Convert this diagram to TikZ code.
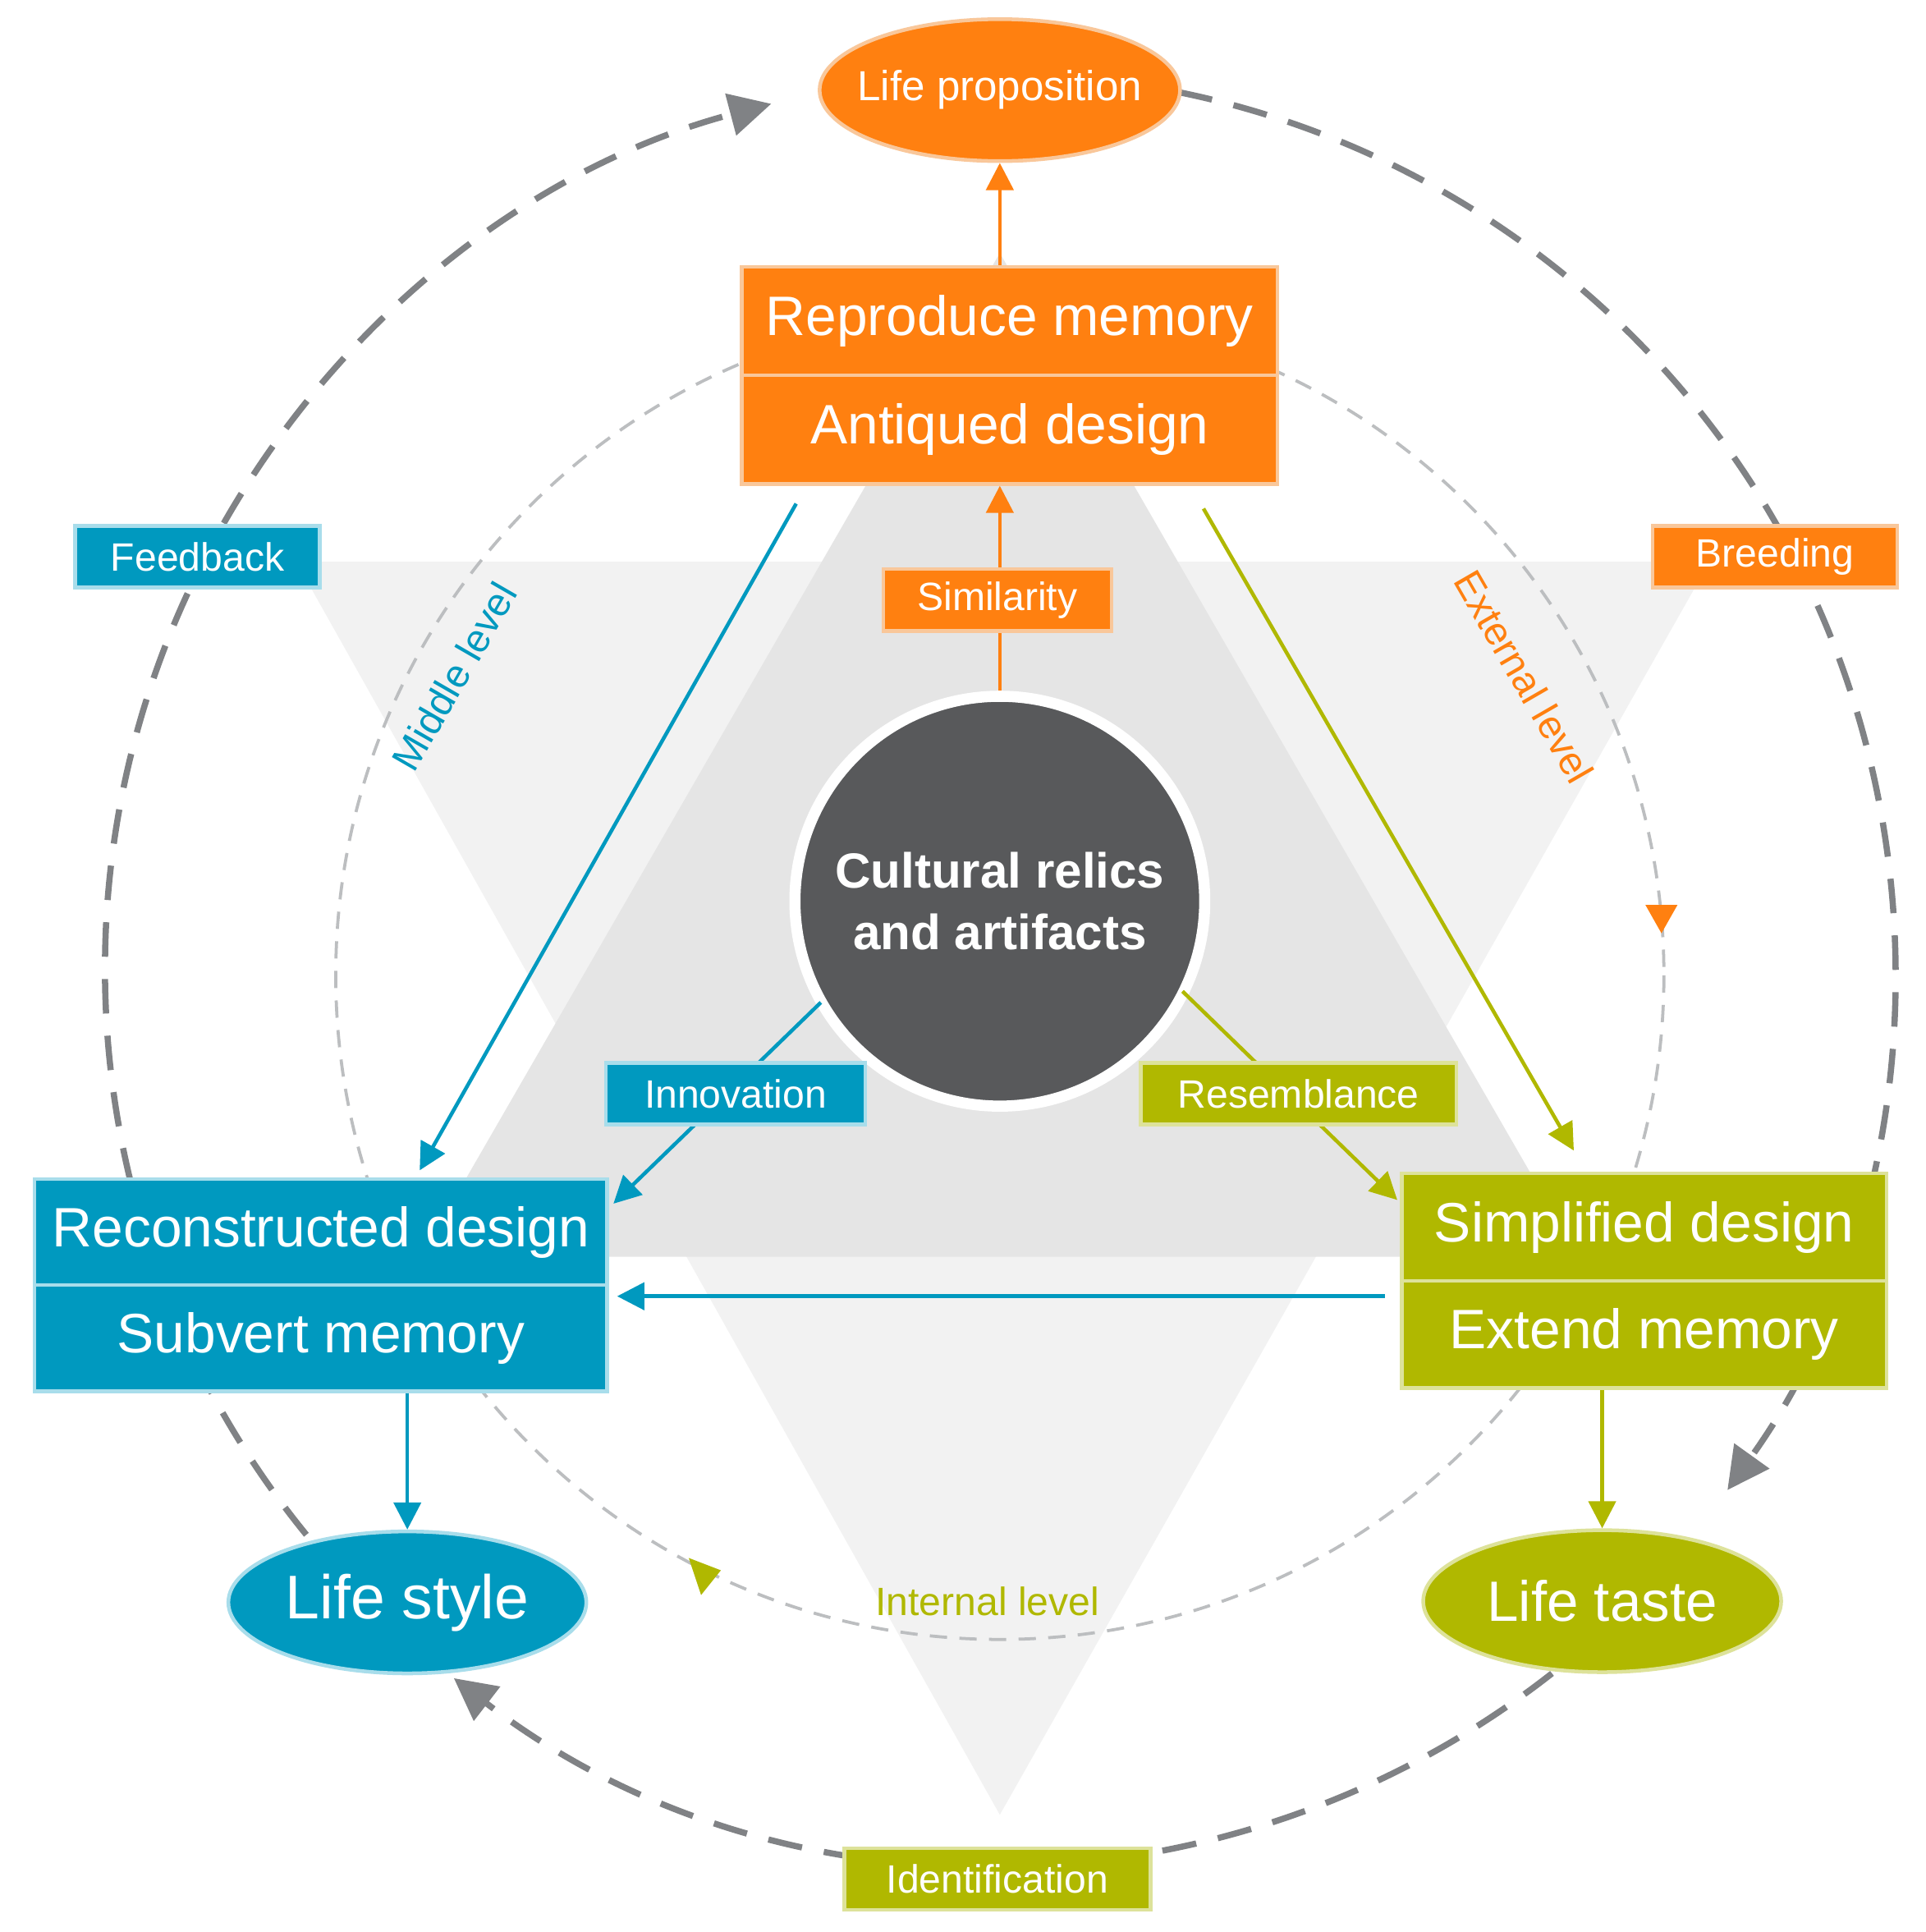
\documentclass[tikz,border=0pt]{standalone}
\usepackage{fontspec}
\setmainfont{Liberation Sans}
\usetikzlibrary{shapes.geometric,arrows.meta,calc}
\definecolor{org}{HTML}{FF8010}
\definecolor{orgl}{HTML}{F9C79A}
\definecolor{blu}{HTML}{0099BF}
\definecolor{blul}{HTML}{A8DDEB}
\definecolor{olv}{HTML}{B0B800}
\definecolor{olvl}{HTML}{DDE29A}
\definecolor{dk}{HTML}{58595B}
\definecolor{gr}{HTML}{808285}
\definecolor{lgr}{HTML}{BCBEC0}
\begin{document}
\begin{tikzpicture}[x=1pt,y=-1pt,
 box/.style={draw=#1l,line width=3pt,fill=#1,text=white,minimum width=434pt,minimum height=88pt,font=\fontsize{45}{48}\selectfont,inner sep=0pt},
 lab/.style={draw=#1l,line width=3pt,fill=#1,text=white,minimum height=50pt,font=\fontsize{32}{34}\selectfont,inner sep=0pt},
 ell/.style={ellipse,draw=#1l,line width=3pt,fill=#1,text=white,minimum width=290pt,minimum height=115pt,inner sep=0pt},
 con/.style={draw=#1,line width=3pt,-{Triangle[length=22pt,width=22pt]}},
 outer/.style={draw=gr,line width=5pt,dash pattern=on 28pt off 18pt,-{Triangle[length=34pt,width=34pt]}}]
\useasboundingbox (0,0) rectangle (1560,1565);
\fill[white] (0,0) rectangle (1560,1565);
% background triangles
\fill[black!5] (240,455) -- (1385,455) -- (810,1470) -- cycle;
\fill[black!10] (810,205) -- (1279,1018) -- (341,1018) -- cycle;
% circles
\coordinate (oc) at (810,785);
\coordinate (ic) at (810,790);
\draw[lgr,line width=2.5pt,dash pattern=on 14pt off 10pt] (ic) circle[radius=538];
\fill[org] (1333,733) -- (1359,733) -- (1346,756) -- cycle;
\fill[olv] (558,1262) -- (584,1272) -- (568,1292) -- cycle;
\draw[outer] ($(oc)+(-219.2:725)$) arc[start angle=-219.2,end angle=-104.8,radius=725];
\draw[outer] ($(oc)+(-78.5:725)$) arc[start angle=-78.5,end angle=35.6,radius=725];
\draw[outer] ($(oc)+(51.9:725)$) arc[start angle=51.9,end angle=127.6,radius=725];
% level texts
\node[text=blu,rotate=60,font=\fontsize{32}{36}\selectfont] (ml) at (368,548) {Middle level};
\node[text=org,rotate=-60,font=\fontsize{32}{36}\selectfont] (el) at (1235,548) {External level};
\node[text=olv,font=\fontsize{32}{36}\selectfont] (il) at (800,1297) {Internal level};
% main nodes
\node[ell=org,minimum width=292pt,label={[text=white,font=\fontsize{34}{38}\selectfont]center:Life proposition}] (lp) at (810,73) {};
\node[ell=blu,font=\fontsize{50}{54}\selectfont] (ls) at (330,1298) {Life style};
\node[ell=olv,font=\fontsize{46}{50}\selectfont] (lt) at (1298,1297) {Life taste};
\node[box=org] (rm) at (818,260) {Reproduce memory};
\node[box=org] (ad) at (818,348) {Antiqued design};
\node[box=blu,minimum width=464pt,minimum height=86pt] (rd) at (260,998) {Reconstructed design};
\node[box=blu,minimum width=464pt,minimum height=86pt] (sm) at (260,1084) {Subvert memory};
\node[box=olv,minimum width=393pt,minimum height=87pt] (sd) at (1332,994) {Simplified design};
\node[box=olv,minimum width=393pt,minimum height=87pt] (em) at (1332,1081) {Extend memory};
\node[circle,fill=dk,draw=white,line width=9pt,minimum size=332pt,text=white,align=center,font=\bfseries\fontsize{40}{50}\selectfont] (cr) at (810,730) {Cultural relics\\ and artifacts};
% connectors
\coordinate (a1) at (645,408); \coordinate (a2) at (340,948);
\coordinate (b1) at (975,412); \coordinate (b2) at (1275,932);
\coordinate (c1) at (665,812); \coordinate (c2) at (497,975);
\coordinate (d1) at (958,803); \coordinate (d2) at (1132,972);
\coordinate (e1) at (1122,1050); \coordinate (e2) at (500,1050);
\draw[con=org] (rm.north -| lp) -- (lp.south);
\draw[con=org] (cr.north) -- (ad.south -| cr);
\draw[con=blu] (c1) -- (c2);
\draw[con=olv] (d1) -- (d2);
\draw[con=blu] (a1) -- (a2);
\draw[con=olv] (b1) -- (b2);
\draw[con=blu] (e1) -- (e2);
\draw[con=blu] (sm.south -| ls) -- (ls.north);
\draw[con=olv] (em.south -| lt) -- (lt.north);
% labels
\node[lab=org,minimum width=185pt] (si) at (808,486) {Similarity};
\node[lab=blu,minimum width=210pt] (in) at (596,886) {Innovation};
\node[lab=olv,minimum width=256pt] (re) at (1052,886) {Resemblance};
\node[lab=blu,minimum width=198pt] (fb) at (160,451) {Feedback};
\node[lab=org,minimum width=198pt] (br) at (1438,451) {Breeding};
\node[lab=olv,minimum width=248pt] (id) at (808,1522) {Identification};
\end{tikzpicture}
\end{document}
